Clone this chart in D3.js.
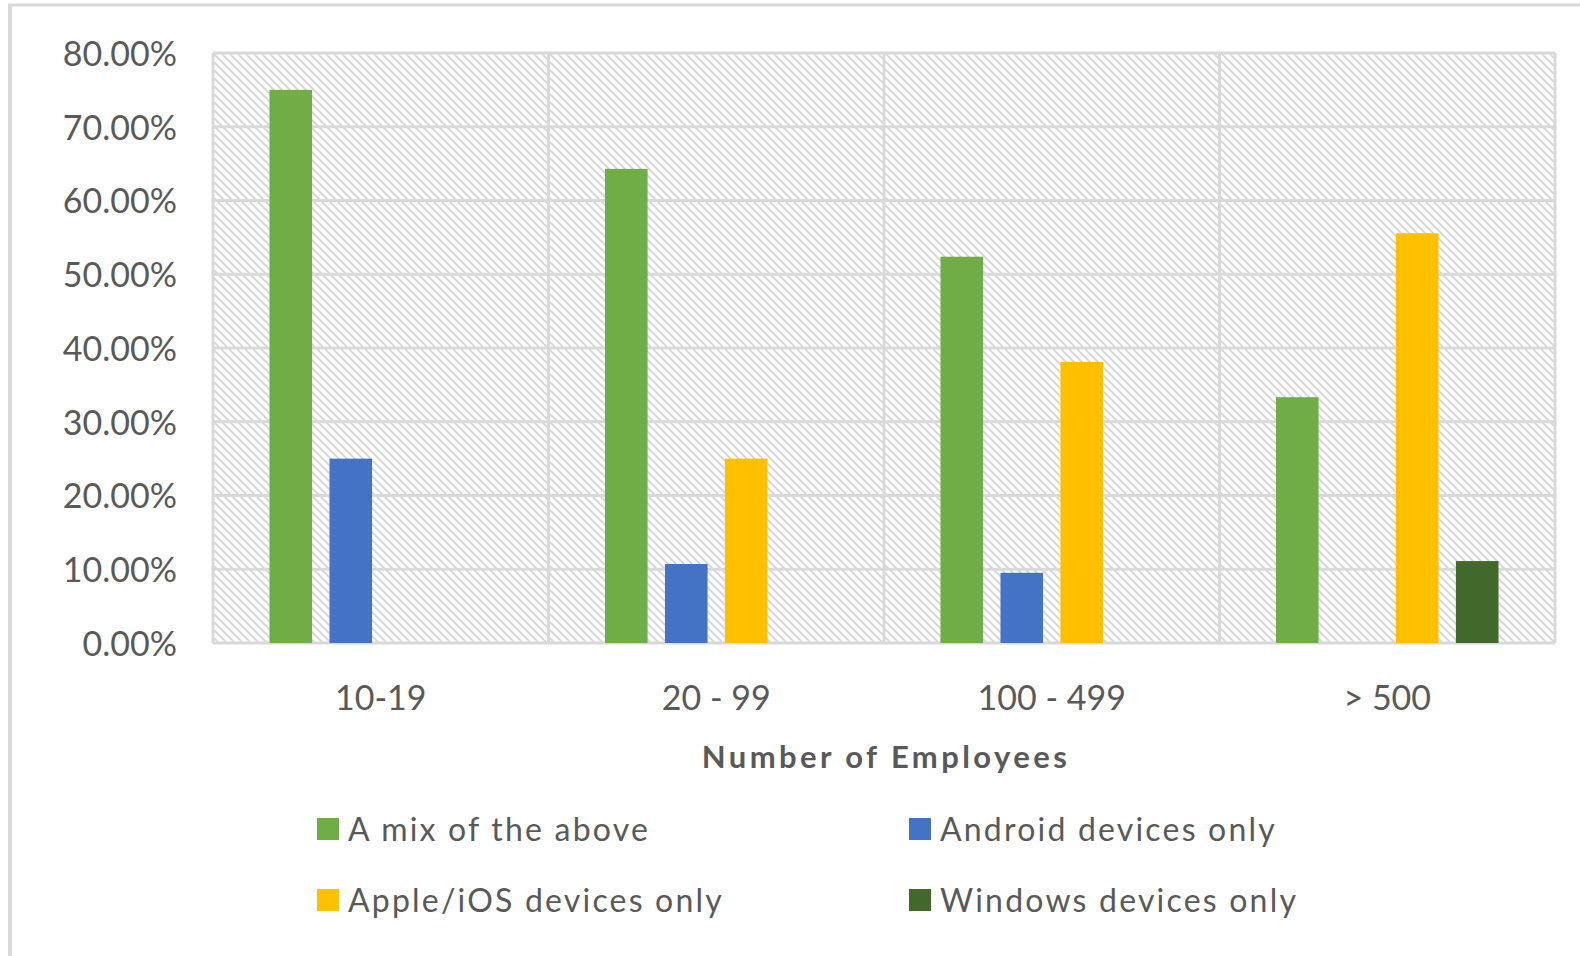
<!DOCTYPE html>
<html>
<head>
<meta charset="utf-8">
<script src="https://cdn.jsdelivr.net/npm/d3@7"></script>
<style>
  html, body { margin: 0; padding: 0; background: #fff; }
  svg { display: block; font-family: Lato, "Open Sans", sans-serif; }
</style>
</head>
<body>
<svg id="chart" width="1580" height="956"></svg>
<script>
const categories = ["10-19", "20 - 99", "100 - 499", "> 500"];
const seriesNames = ["A mix of the above", "Android devices only", "Apple/iOS devices only", "Windows devices only"];
const seriesColors = ["#70AD47", "#4472C4", "#FFC000", "#43682B"];
const mixValues = [0.75, 0.6429, 0.5238, 0.3333];
const androidValues = [0.25, 0.1071, 0.0952, 0];
const appleValues = [0, 0.25, 0.381, 0.5556];
const windowsValues = [0, 0, 0, 0.1111];
const yTicks = [0, 0.1, 0.2, 0.3, 0.4, 0.5, 0.6, 0.7, 0.8];
const xTitle = "Number of Employees";

const allSeries = [mixValues, androidValues, appleValues, windowsValues];
const rows = categories.map((c, i) => ({
  cat: c,
  vals: seriesNames.map((s, j) => ({ key: s, value: allSeries[j][i] }))
}));

const svg = d3.select("#chart");
const grey = "#595959";
const gridCol = "#d9d9d9";

// outer frame (only left and top visible in the shot)
svg.append("line").attr("x1", 10).attr("x2", 10).attr("y1", 4).attr("y2", 956)
  .attr("stroke", gridCol).attr("stroke-width", 4);
svg.append("line").attr("x1", 8).attr("x2", 1580).attr("y1", 5).attr("y2", 5)
  .attr("stroke", gridCol).attr("stroke-width", 3);

const plot = { left: 213, right: 1555, top: 53, bottom: 643 };

// hatch fill (downward diagonal)
const defs = svg.append("defs");
const pat = defs.append("pattern").attr("id", "hatch")
  .attr("patternUnits", "userSpaceOnUse").attr("width", 8).attr("height", 8);
pat.append("rect").attr("width", 8).attr("height", 8).attr("fill", "#fff");
pat.append("path").attr("d", "M0,0 L8,8 M-1,7 L1,9 M7,-1 L9,1")
  .attr("stroke", "#d4d4d4").attr("stroke-width", 1.8);

svg.append("rect")
  .attr("x", plot.left).attr("y", plot.top)
  .attr("width", plot.right - plot.left).attr("height", plot.bottom - plot.top)
  .attr("fill", "url(#hatch)");

const x0 = d3.scaleBand().domain(categories).range([plot.left, plot.right]).padding(0);
const x1 = d3.scaleBand().domain(seriesNames).range([56.5, 279]).paddingInner(0.29);
const y = d3.scaleLinear().domain([0, 0.8]).range([plot.bottom, plot.top]);

// horizontal grid
svg.append("g").selectAll("line").data(yTicks).join("line")
  .attr("x1", plot.left).attr("x2", plot.right)
  .attr("y1", d => y(d)).attr("y2", d => y(d))
  .attr("stroke", gridCol).attr("stroke-width", 3);

// vertical grid at band edges
const edges = categories.map(c => x0(c)).concat([plot.right]);
svg.append("g").selectAll("line").data(edges).join("line")
  .attr("x1", d => d).attr("x2", d => d)
  .attr("y1", plot.top).attr("y2", plot.bottom)
  .attr("stroke", gridCol).attr("stroke-width", 3);

// bars
svg.append("g").selectAll("g").data(rows).join("g")
  .attr("transform", d => "translate(" + x0(d.cat) + ",0)")
  .selectAll("rect").data(d => d.vals.filter(v => v.value > 0)).join("rect")
  .attr("x", d => x1(d.key))
  .attr("width", x1.bandwidth())
  .attr("y", d => y(d.value))
  .attr("height", d => y(0) - y(d.value))
  .attr("fill", d => seriesColors[seriesNames.indexOf(d.key)]);

// y axis
const yAxis = svg.append("g")
  .attr("transform", "translate(" + (plot.left - 36) + ",0)")
  .call(d3.axisLeft(y).tickValues(yTicks).tickFormat(d3.format(".2%")).tickSize(0).tickPadding(0));
yAxis.select(".domain").remove();
yAxis.selectAll("text")
  .attr("font-size", 34).attr("fill", grey).attr("font-family", "Lato")
  .attr("dy", "0.36em");

// x axis
const xAxis = svg.append("g")
  .attr("transform", "translate(0," + plot.bottom + ")")
  .call(d3.axisBottom(x0).tickSize(0).tickPadding(0));
xAxis.select(".domain").remove();
xAxis.selectAll("text")
  .attr("font-size", 34).attr("fill", grey).attr("font-family", "Lato")
  .attr("dy", 0).attr("y", 67);

svg.append("text")
  .attr("x", (plot.left + plot.right) / 2 + 2).attr("y", 768)
  .attr("text-anchor", "middle")
  .attr("font-size", 31).attr("font-weight", "bold").attr("fill", grey)
  .attr("letter-spacing", 3.4)
  .text(xTitle);

// legend
const legendPos = [[317, 818], [909, 818], [317, 889], [909, 889]];
const leg = svg.append("g").selectAll("g").data(seriesNames).join("g")
  .attr("transform", (d, i) => "translate(" + legendPos[i][0] + "," + legendPos[i][1] + ")");
leg.append("rect").attr("width", 22).attr("height", 22)
  .attr("fill", (d, i) => seriesColors[i]);
leg.append("text").attr("x", 31).attr("y", 23)
  .attr("font-size", 32).attr("fill", grey)
  .attr("letter-spacing", 2.2)
  .text(d => d);
</script>
</body>
</html>
